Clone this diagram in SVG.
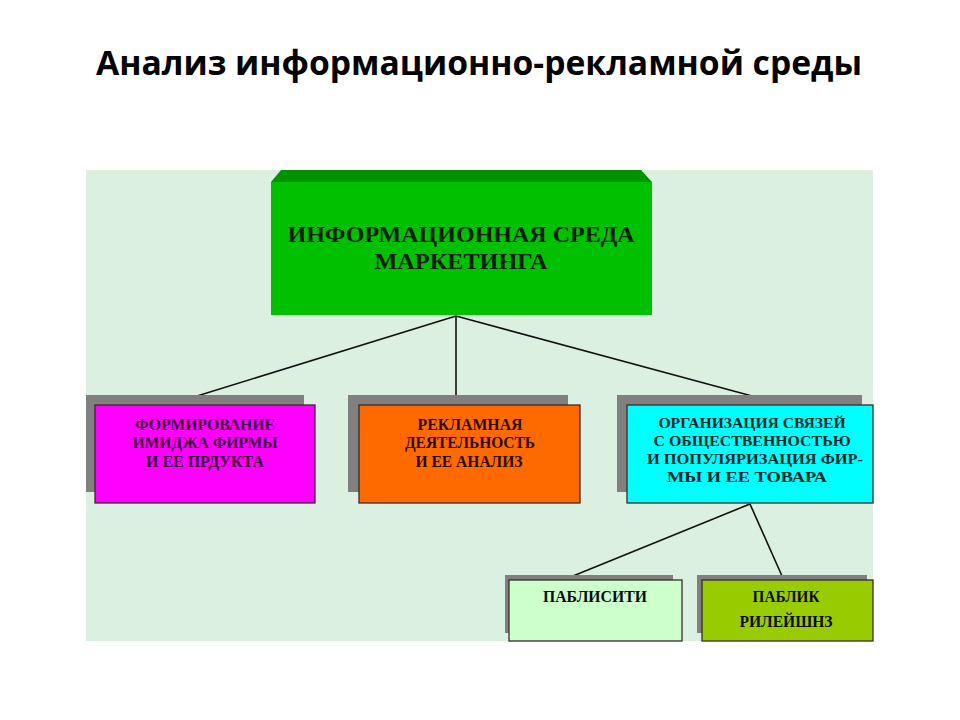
<svg xmlns="http://www.w3.org/2000/svg" width="960" height="720" viewBox="0 0 960 720">
<style>
.title{font-family:"Open Sans","Liberation Sans",sans-serif;font-weight:bold;font-size:34px;fill:#000}
.t{font-family:"Liberation Serif","DejaVu Serif",serif;font-weight:bold;text-anchor:middle}
.big{font-size:23px;fill:#0a200a}
.sm{font-size:17px}
.xs{font-size:15px}
.shadow{fill:#808080}
.box{stroke:#3a2a2a;stroke-width:1.3}
.conn{stroke:#111;stroke-width:1.6;fill:none}
</style>
<rect width="960" height="720" fill="#fff"/>
<text class="title" x="96" y="75" textLength="766" lengthAdjust="spacingAndGlyphs">Анализ информационно-рекламной среды</text>
<rect x="86" y="170" width="787" height="471" fill="#dcf0e2"/>
<g id="connectors">
<line class="conn" x1="456" y1="316" x2="197" y2="396"/>
<line class="conn" x1="456" y1="316" x2="456" y2="396"/>
<line class="conn" x1="456" y1="316" x2="752" y2="396"/>
<line class="conn" x1="750" y1="504" x2="573" y2="576"/>
<line class="conn" x1="750" y1="504" x2="782" y2="576"/>
</g>
<g id="node-main">
<polygon points="281,170 641,170 652,182 271,182" fill="#009300"/>
<rect x="271" y="182" width="381" height="133" fill="#00c000"/>
<text class="t big" x="461" y="242" textLength="347" lengthAdjust="spacingAndGlyphs">ИНФОРМАЦИОННАЯ СРЕДА</text>
<text class="t big" x="461" y="269" textLength="173" lengthAdjust="spacingAndGlyphs">МАРКЕТИНГА</text>
</g>
<g id="node-image">
<rect class="shadow" x="86" y="395" width="218" height="97"/>
<rect class="box" x="95" y="405" width="220" height="98" fill="#ff00ff"/>
<text class="t sm" fill="#3a003a" x="205" y="430" textLength="140" lengthAdjust="spacingAndGlyphs">ФОРМИРОВАНИЕ</text>
<text class="t sm" fill="#3a003a" x="205" y="448" textLength="145" lengthAdjust="spacingAndGlyphs">ИМИДЖА ФИРМЫ</text>
<text class="t sm" fill="#3a003a" x="205" y="467" textLength="118" lengthAdjust="spacingAndGlyphs">И ЕЕ ПРДУКТА</text>
</g>
<g id="node-ads">
<rect class="shadow" x="348" y="395" width="220" height="97"/>
<rect class="box" x="359" y="405" width="221" height="98" fill="#ff6a00"/>
<text class="t sm" fill="#2a0a00" x="470" y="430" textLength="105" lengthAdjust="spacingAndGlyphs">РЕКЛАМНАЯ</text>
<text class="t sm" fill="#2a0a00" x="470" y="448" textLength="130" lengthAdjust="spacingAndGlyphs">ДЕЯТЕЛЬНОСТЬ</text>
<text class="t sm" fill="#2a0a00" x="469" y="467" textLength="107" lengthAdjust="spacingAndGlyphs">И ЕЕ АНАЛИЗ</text>
</g>
<g id="node-pr">
<rect class="shadow" x="617" y="395" width="245" height="97"/>
<rect class="box" x="627" y="405" width="246" height="98" fill="#00ffff"/>
<text class="t xs" fill="#002828" x="752" y="428" textLength="187" lengthAdjust="spacingAndGlyphs">ОРГАНИЗАЦИЯ СВЯЗЕЙ</text>
<text class="t xs" fill="#002828" x="752" y="446" textLength="197" lengthAdjust="spacingAndGlyphs">С ОБЩЕСТВЕННОСТЬЮ</text>
<text class="t xs" fill="#002828" x="755" y="464" textLength="216" lengthAdjust="spacingAndGlyphs">И ПОПУЛЯРИЗАЦИЯ ФИР-</text>
<text class="t xs" fill="#002828" x="747" y="482" textLength="160" lengthAdjust="spacingAndGlyphs">МЫ И ЕЕ ТОВАРА</text>
</g>
<g id="node-publicity">
<rect class="shadow" x="505" y="575" width="168" height="58"/>
<rect class="box" x="509" y="580" width="173" height="61" fill="#ccffcc"/>
<text class="t sm" fill="#0a0a0a" x="595" y="602" textLength="104" lengthAdjust="spacingAndGlyphs">ПАБЛИСИТИ</text>
</g>
<g id="node-public-relations">
<rect class="shadow" x="697" y="575" width="170" height="58"/>
<rect class="box" x="702" y="580" width="171" height="61" fill="#99cc00"/>
<text class="t sm" fill="#0a0a0a" x="786" y="602" textLength="67" lengthAdjust="spacingAndGlyphs">ПАБЛИК</text>
<text class="t sm" fill="#0a0a0a" x="786" y="627" textLength="93" lengthAdjust="spacingAndGlyphs">РИЛЕЙШНЗ</text>
</g>
</svg>
